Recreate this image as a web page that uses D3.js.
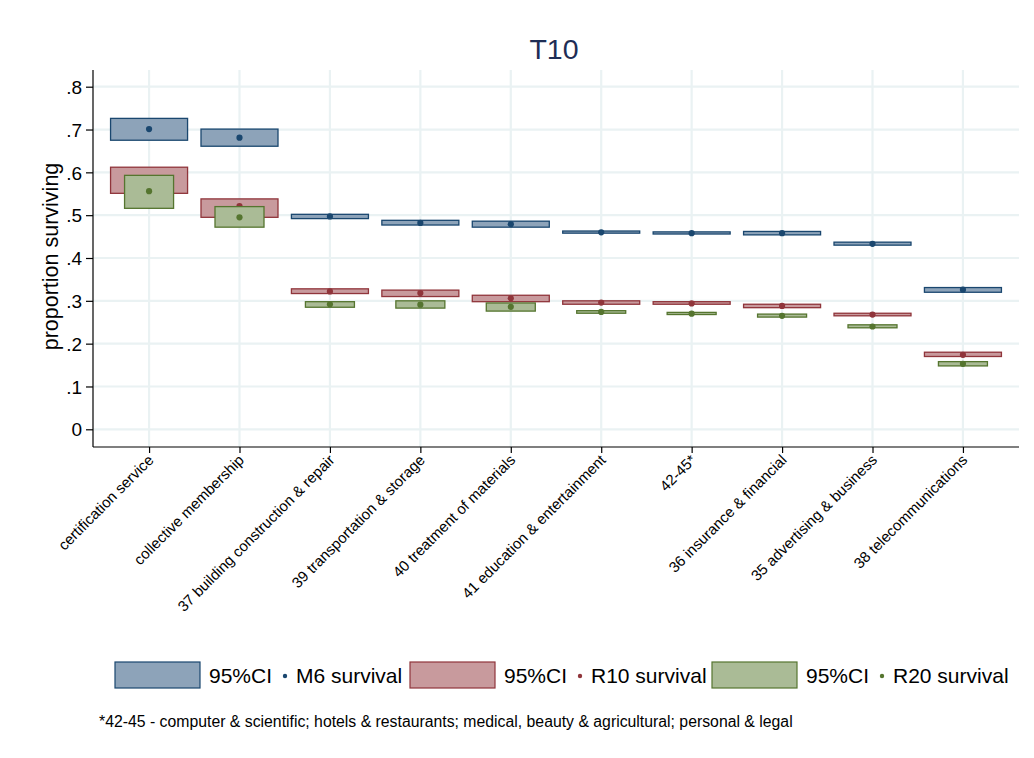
<!DOCTYPE html>
<html>
<head>
<meta charset="utf-8">
<script src="https://cdn.jsdelivr.net/npm/d3@7"></script>
<style>
  html, body { margin: 0; padding: 0; background: #fff; }
  svg { display: block; font-family: "Liberation Sans", Arial, sans-serif; }
</style>
</head>
<body>
<svg id="chart" width="1034" height="758"></svg>
<script>
// Sector categories along the x axis
const categories = [
  "certification service", "collective membership", "37 building construction & repair",
  "39 transportation & storage", "40 treatment of materials", "41 education & entertainment",
  "42-45*", "36 insurance & financial", "35 advertising & business", "38 telecommunications"
];

// M6 survival: point estimate and 95% CI
const m6 = [0.701, 0.681, 0.497, 0.482, 0.479, 0.460, 0.458, 0.458, 0.433, 0.326];
const m6Lo = [0.675, 0.661, 0.492, 0.477, 0.472, 0.458, 0.456, 0.454, 0.430, 0.320];
const m6Hi = [0.726, 0.701, 0.502, 0.488, 0.486, 0.463, 0.461, 0.462, 0.437, 0.331];

// R10 survival
const r10 = [0.580, 0.521, 0.322, 0.318, 0.306, 0.296, 0.294, 0.288, 0.268, 0.174];
const r10Lo = [0.551, 0.495, 0.317, 0.310, 0.298, 0.292, 0.292, 0.284, 0.265, 0.170];
const r10Hi = [0.612, 0.538, 0.328, 0.325, 0.313, 0.300, 0.298, 0.292, 0.271, 0.180];

// R20 survival
const r20 = [0.556, 0.495, 0.292, 0.291, 0.286, 0.274, 0.270, 0.265, 0.240, 0.153];
const r20Lo = [0.516, 0.472, 0.285, 0.283, 0.276, 0.271, 0.268, 0.262, 0.237, 0.148];
const r20Hi = [0.593, 0.520, 0.298, 0.300, 0.295, 0.277, 0.273, 0.269, 0.244, 0.158];

const yTicks = [0, 0.1, 0.2, 0.3, 0.4, 0.5, 0.6, 0.7, 0.8];
const yTickLabels = ["0", ".1", ".2", ".3", ".4", ".5", ".6", ".7", ".8"];

const series = [
  { name: "M6 survival",  est: m6,  lo: m6Lo,  hi: m6Hi,  fill: "#8da3b9", stroke: "#1a476f", wide: true },
  { name: "R10 survival", est: r10, lo: r10Lo, hi: r10Hi, fill: "#c89a9d", stroke: "#90353b", wide: true },
  { name: "R20 survival", est: r20, lo: r20Lo, hi: r20Hi, fill: "#aabb96", stroke: "#55752f", wide: false }
];

const svg = d3.select("#chart");
const W = 1034, H = 758;
const plot = { left: 93, right: 1019, top: 70, bottom: 447 };

const x = d3.scalePoint()
  .domain(categories)
  .range([plot.left, plot.right])
  .padding(0.62);

const y = d3.scaleLinear()
  .domain([0, 0.8])
  .range([429.3, 86.7]);

svg.append("rect").attr("width", W).attr("height", H).attr("fill", "#fff");

// grid
const grid = svg.append("g").attr("stroke", "#eaf2f3").attr("stroke-width", 2.2);
grid.selectAll("line.h").data(yTicks).join("line")
  .attr("x1", plot.left).attr("x2", plot.right)
  .attr("y1", d => y(d)).attr("y2", d => y(d));
grid.selectAll("line.v").data(categories).join("line")
  .attr("x1", d => x(d)).attr("x2", d => x(d))
  .attr("y1", plot.top).attr("y2", plot.bottom);

// CI boxes and point estimates, series by series
const wideW = 77, narrowW = 49;
series.forEach(s => {
  const bw = s.wide ? wideW : narrowW;
  const g = svg.append("g");
  g.selectAll("rect").data(categories).join("rect")
    .attr("x", d => x(d) - bw / 2)
    .attr("width", bw)
    .attr("y", (d, i) => y(s.hi[i]))
    .attr("height", (d, i) => y(s.lo[i]) - y(s.hi[i]))
    .attr("fill", s.fill)
    .attr("stroke", s.stroke)
    .attr("stroke-width", 1.3);
  g.selectAll("circle").data(categories).join("circle")
    .attr("cx", d => x(d))
    .attr("cy", (d, i) => y(s.est[i]))
    .attr("r", 3.1)
    .attr("fill", s.stroke);
});

// y axis
const yAxis = svg.append("g")
  .attr("transform", `translate(${plot.left},0)`)
  .call(d3.axisLeft(y).tickValues(yTicks).tickFormat((d, i) => yTickLabels[i]).tickSize(7).tickPadding(4));
yAxis.select(".domain").attr("d", `M0,${plot.top}V${plot.bottom}`).attr("stroke", "#000").attr("stroke-width", 1.2);
yAxis.selectAll(".tick line").attr("stroke", "#000").attr("stroke-width", 1.2);
yAxis.selectAll(".tick text").attr("font-size", 19).attr("fill", "#000").attr("dy", "0.35em")
  .attr("font-family", "Liberation Sans, Arial, sans-serif");

// x axis
const xAxis = svg.append("g")
  .attr("transform", `translate(0,${plot.bottom})`)
  .call(d3.axisBottom(x).tickSize(6).tickFormat(""));
xAxis.select(".domain").attr("d", `M${plot.left},0H${plot.right}`).attr("stroke", "#000").attr("stroke-width", 1.2);
xAxis.selectAll(".tick line").attr("stroke", "#000").attr("stroke-width", 1.2);
xAxis.selectAll(".tick").append("text")
  .attr("transform", "translate(5,14) rotate(-45)")
  .attr("text-anchor", "end")
  .attr("fill", "#000")
  .attr("font-size", 15)
  .attr("font-family", "Liberation Sans, Arial, sans-serif")
  .text(d => d);

// title and axis title
svg.append("text").attr("x", 554).attr("y", 59).attr("text-anchor", "middle")
  .attr("font-size", 28.5).attr("fill", "#1e2d55").text("T10");
svg.append("text")
  .attr("transform", `translate(58,${(plot.top + plot.bottom) / 2 - 2}) rotate(-90)`)
  .attr("text-anchor", "middle").attr("font-size", 21.5).attr("fill", "#000")
  .text("proportion surviving");

// legend
const legendX = [115, 410, 712];
const leg = svg.append("g");
series.forEach((s, i) => {
  const lx = legendX[i];
  leg.append("rect").attr("x", lx).attr("y", 662).attr("width", 85).attr("height", 26)
    .attr("fill", s.fill).attr("stroke", s.stroke).attr("stroke-width", 1.2);
  leg.append("text").attr("x", lx + 94).attr("y", 683).attr("font-size", 21).attr("fill", "#000").text("95%CI");
  leg.append("circle").attr("cx", lx + 170).attr("cy", 676).attr("r", 2.2).attr("fill", s.stroke);
  leg.append("text").attr("x", lx + 181).attr("y", 683).attr("font-size", 21).attr("fill", "#000").text(s.name);
});

// footnote
svg.append("text").attr("x", 99).attr("y", 727).attr("font-size", 15.8).attr("fill", "#000")
  .text("*42-45 - computer & scientific; hotels & restaurants; medical, beauty & agricultural; personal & legal");
</script>
</body>
</html>
